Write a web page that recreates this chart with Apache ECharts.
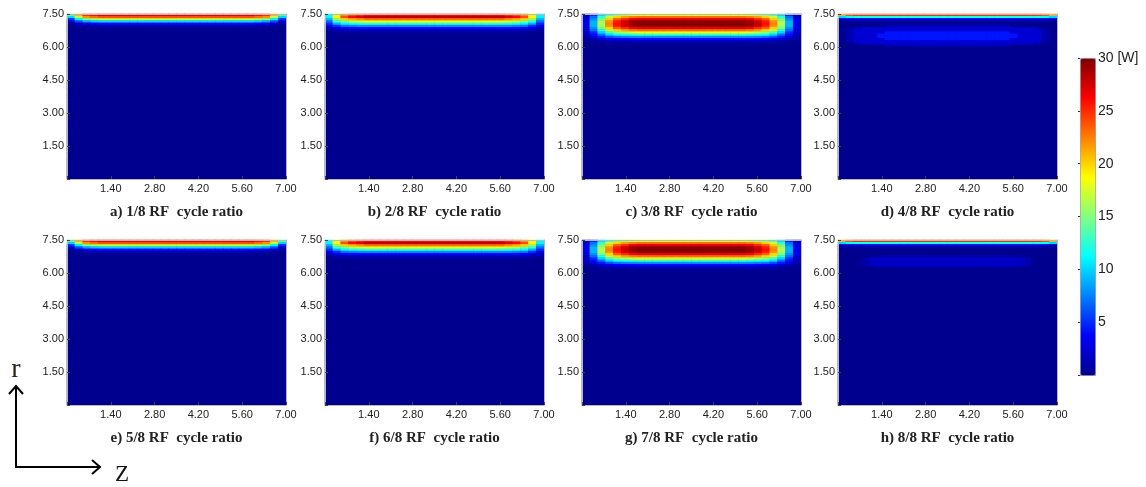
<!DOCTYPE html>
<html>
<head>
<meta charset="UTF-8">
<title>RF cycle ratio</title>
<script src="https://cdn.jsdelivr.net/npm/echarts@6/dist/echarts.min.js"></script>
</head>
<body style="margin:0;background:#fff">
<div id="main" style="width:1146px;height:487px"></div>
<script>
// cells: z from 0 to 7 in 28 columns (0.25), r from 0 to 7.5 in 75 rows (0.1)
var zCells = 28;
var rCells = 75;
var zMax = 7, zStep = 1.4;
var rMax = 7.5, rStep = 1.5;
var wMax = 30;

var captions = [
    'a) 1/8 RF  cycle ratio', 'b) 2/8 RF  cycle ratio', 'c) 3/8 RF  cycle ratio', 'd) 4/8 RF  cycle ratio',
    'e) 5/8 RF  cycle ratio', 'f) 6/8 RF  cycle ratio', 'g) 7/8 RF  cycle ratio', 'h) 8/8 RF  cycle ratio'
];

// power [W] read per cell, rows listed from the top (r = 7.5) downward;
// every row below the listed ones reads as 0
var fieldA = [
    [14,21,25,26, 27,27,27,27,27, 27,27,27,27,27, 27,27,27,27,27, 27,27,27,27,27, 26,25,21,14],
    [10,17,22,23, 24,24,24,24,24, 24,24,24,24,24, 24,24,24,24,24, 24,24,24,24,24, 23,22,17,10],
    [5,11,15,16, 17,17,17,17,17, 17,17,17,17,17, 17,17,17,17,17, 17,17,17,17,17, 16,15,11,5],
    [2,6,8.5,9.5, 10,10,10,10,10, 10,10,10,10,10, 10,10,10,10,10, 10,10,10,10,10, 9.5,8.5,6,2],
    [0.5,2,3,3.5, 4,4,4,4,4, 4,4,4,4,4, 4,4,4,4,4, 4,4,4,4,4, 3.5,3,2,0.5],
    [0,0.5,0.8,1, 1.2,1.2,1.2,1.2,1.2, 1.2,1.2,1.2,1.2,1.2, 1.2,1.2,1.2,1.2,1.2, 1.2,1.2,1.2,1.2,1.2, 1,0.8,0.5,0],
    [0,0,0.1,0.2, 0.3,0.3,0.3,0.3,0.3, 0.3,0.3,0.3,0.3,0.3, 0.3,0.3,0.3,0.3,0.3, 0.3,0.3,0.3,0.3,0.3, 0.2,0.1,0,0]
];

var fieldB = [
    [11,18,22,24,25, 26,26,26,26,26, 26,26,26,26,26, 26,26,26,26,26, 26,26,26, 25,24,22,18,11],
    [11,19,24,26,27, 28,28,28,28,28, 28,28,28,28,28, 28,28,28,28,28, 28,28,28, 27,26,24,19,11],
    [9,16,20,21,22, 23,23,23,23,23, 23,23,23,23,23, 23,23,23,23,23, 23,23,23, 22,21,20,16,9],
    [7,13,15,17,17.5, 18,18,18,18,18, 18,18,18,18,18, 18,18,18,18,18, 18,18,18, 17.5,17,15,13,7],
    [5,9,11,12,12.5, 13,13,13,13,13, 13,13,13,13,13, 13,13,13,13,13, 13,13,13, 12.5,12,11,9,5],
    [3,5,7,7.5,8, 8,8,8,8,8, 8,8,8,8,8, 8,8,8,8,8, 8,8,8, 8,7.5,7,5,3],
    [1.5,3,3.5,4,4, 4,4,4,4,4, 4,4,4,4,4, 4,4,4,4,4, 4,4,4, 4,4,3.5,3,1.5],
    [0.5,1,1.3,1.5,1.5, 1.5,1.5,1.5,1.5,1.5, 1.5,1.5,1.5,1.5,1.5, 1.5,1.5,1.5,1.5,1.5, 1.5,1.5,1.5, 1.5,1.5,1.3,1,0.5],
    [0,0.3,0.4,0.5,0.5, 0.5,0.5,0.5,0.5,0.5, 0.5,0.5,0.5,0.5,0.5, 0.5,0.5,0.5,0.5,0.5, 0.5,0.5,0.5, 0.5,0.5,0.4,0.3,0]
];

var fieldC = [
    [2,5,10,13.5,15.5,16.5,17.5, 18,18,18,18,18, 18,18,18,18,18, 18,18,18,18, 17.5,16.5,15.5,13.5,10,5,2],
    [2,7,12.5,17,20,21.5,22.5, 23,23,23,23,23, 23,23,23,23,23, 23,23,23,23, 22.5,21.5,20,17,12.5,7,2],
    [3,8,15,20,23.5,25,26.5, 27,27,27,27,27, 27,27,27,27,27, 27,27,27,27, 26.5,25,23.5,20,15,8,3],
    [3,9,16,22,25.5,27.5,29, 29.5,29.5,29.5,29.5,29.5, 29.5,29.5,29.5,29.5,29.5, 29.5,29.5,29.5,29.5, 29,27.5,25.5,22,16,9,3],
    [3,9,16.5,22.5,26,28,29.5, 30,30,30,30,30, 30,30,30,30,30, 30,30,30,30, 29.5,28,26,22.5,16.5,9,3],
    [3,9,16,22,25.5,27.5,29, 29.5,29.5,29.5,29.5,29.5, 29.5,29.5,29.5,29.5,29.5, 29.5,29.5,29.5,29.5, 29,27.5,25.5,22,16,9,3],
    [3,8,15,20,23.5,25,26.5, 27,27,27,27,27, 27,27,27,27,27, 27,27,27,27, 26.5,25,23.5,20,15,8,3],
    [2,7,12.5,17,20,21.5,22.5, 23,23,23,23,23, 23,23,23,23,23, 23,23,23,23, 22.5,21.5,20,17,12.5,7,2],
    [2,5,10,13.5,15.5,16.5,17.5, 18,18,18,18,18, 18,18,18,18,18, 18,18,18,18, 17.5,16.5,15.5,13.5,10,5,2],
    [1.5,4,7,10,11.5,12,12.5, 13,13,13,13,13, 13,13,13,13,13, 13,13,13,13, 12.5,12,11.5,10,7,4,1.5],
    [1,2.5,4.5,6,7,7.5,7.8, 8,8,8,8,8, 8,8,8,8,8, 8,8,8,8, 7.8,7.5,7,6,4.5,2.5,1],
    [0.5,1,2,3,3.5,3.7,3.9, 4,4,4,4,4, 4,4,4,4,4, 4,4,4,4, 3.9,3.7,3.5,3,2,1,0.5],
    [0.2,0.5,0.8,1.1,1.3,1.4,1.5, 1.5,1.5,1.5,1.5,1.5, 1.5,1.5,1.5,1.5,1.5, 1.5,1.5,1.5,1.5, 1.5,1.4,1.3,1.1,0.8,0.5,0.2],
    [0,0.2,0.3,0.4,0.4,0.5,0.5, 0.5,0.5,0.5,0.5,0.5, 0.5,0.5,0.5,0.5,0.5, 0.5,0.5,0.5,0.5, 0.5,0.5,0.4,0.4,0.3,0.2,0]
];

var fieldD = [
    [21,24, 25,25,25,25,25, 25,25,25,25,25, 25,25,25,25,25, 25,25,25,25,25, 25,25,25,25, 24,21],
    [10,11.5, 12,12,12,12,12, 12,12,12,12,12, 12,12,12,12,12, 12,12,12,12,12, 12,12,12,12, 11.5,10],
    [2,2.5, 3,3,3,3,3, 3,3,3,3,3, 3,3,3,3,3, 3,3,3,3,3, 3,3,3,3, 2.5,2],
    [0.3,0.3, 0.4,0.4,0.4,0.4,0.4, 0.4,0.4,0.4,0.4,0.4, 0.4,0.4,0.4,0.4,0.4, 0.4,0.4,0.4,0.4,0.4, 0.4,0.4,0.4,0.4, 0.3,0.3],
    [0,0,0,0,0, 0,0,0,0,0, 0,0,0,0,0, 0,0,0,0,0, 0,0,0,0,0, 0,0,0],
    [0,0,0,0,0,0, 1.2,1.2,1.2,1.2,1.2, 1.2,1.2,1.2,1.2,1.2, 1.2,1.2,1.2,1.2,1.2, 1.2, 0,0,0,0,0,0],
    [0,0,1.2, 2.3,2.3,2.3,2.3,2.3, 2.3,2.3,2.3,2.3,2.3, 2.3,2.3,2.3,2.3,2.3, 2.3,2.3,2.3,2.3,2.3, 2.3,2.3, 1.2,0,0],
    [0,1.2, 2.3,2.3,2.3,2.3,2.3, 2.3,2.3,2.3,2.3,2.3, 2.3,2.3,2.3,2.3,2.3, 2.3,2.3,2.3,2.3,2.3, 2.3,2.3,2.3,2.3, 1.2,0],
    [0,1.2, 2.3,2.3,2.3,2.3, 4.3,4.3,4.3,4.3,4.3, 4.3,4.3,4.3,4.3,4.3, 4.3,4.3,4.3,4.3,4.3, 4.3, 2.3,2.3,2.3,2.3, 1.2,0],
    [0,1.2, 2.3,2.3,2.3, 4.3,4.3,4.3,4.3,4.3, 4.3,4.3,4.3,4.3,4.3, 4.3,4.3,4.3,4.3,4.3, 4.3,4.3,4.3, 2.3,2.3,2.3, 1.2,0],
    [0,1.2, 2.3,2.3,2.3, 4.3,4.3,4.3,4.3,4.3, 4.3,4.3,4.3,4.3,4.3, 4.3,4.3,4.3,4.3,4.3, 4.3,4.3,4.3, 2.3,2.3,2.3, 1.2,0],
    [0,1.2, 2.3,2.3,2.3,2.3, 4.3,4.3,4.3,4.3,4.3, 4.3,4.3,4.3,4.3,4.3, 4.3,4.3,4.3,4.3,4.3, 4.3, 2.3,2.3,2.3,2.3, 1.2,0],
    [0,1.2, 2.3,2.3,2.3,2.3,2.3, 2.3,2.3,2.3,2.3,2.3, 2.3,2.3,2.3,2.3,2.3, 2.3,2.3,2.3,2.3,2.3, 2.3,2.3,2.3,2.3, 1.2,0],
    [0,0,1.2, 2.3,2.3,2.3,2.3,2.3, 2.3,2.3,2.3,2.3,2.3, 2.3,2.3,2.3,2.3,2.3, 2.3,2.3,2.3,2.3,2.3, 2.3,2.3, 1.2,0,0],
    [0,0,0,0,0,0, 1.2,1.2,1.2,1.2,1.2, 1.2,1.2,1.2,1.2,1.2, 1.2,1.2,1.2,1.2,1.2, 1.2, 0,0,0,0,0,0]
];

var fieldH = [
    [21,24, 25,25,25,25,25, 25,25,25,25,25, 25,25,25,25,25, 25,25,25,25,25, 25,25,25,25, 24,21],
    [10,11.5, 12,12,12,12,12, 12,12,12,12,12, 12,12,12,12,12, 12,12,12,12,12, 12,12,12,12, 11.5,10],
    [2,2.5, 3,3,3,3,3, 3,3,3,3,3, 3,3,3,3,3, 3,3,3,3,3, 3,3,3,3, 2.5,2],
    [0.3,0.3, 0.4,0.4,0.4,0.4,0.4, 0.4,0.4,0.4,0.4,0.4, 0.4,0.4,0.4,0.4,0.4, 0.4,0.4,0.4,0.4,0.4, 0.4,0.4,0.4,0.4, 0.3,0.3],
    [0,0,0,0,0, 0,0,0,0,0, 0,0,0,0,0, 0,0,0,0,0, 0,0,0,0,0, 0,0,0],
    [0,0,0,0,0, 0,0,0,0,0, 0,0,0,0,0, 0,0,0,0,0, 0,0,0,0,0, 0,0,0],
    [0,0,0,0,0, 0,0,0,0,0, 0,0,0,0,0, 0,0,0,0,0, 0,0,0,0,0, 0,0,0],
    [0,0,0,0,0, 0.8,0.8,0.8,0.8,0.8, 0.8,0.8,0.8,0.8,0.8, 0.8,0.8,0.8,0.8,0.8, 0.8,0.8,0.8, 0,0,0,0,0],
    [0,0,0, 0.8, 1.8,1.8,1.8,1.8,1.8, 1.8,1.8,1.8,1.8,1.8, 1.8,1.8,1.8,1.8,1.8, 1.8,1.8,1.8,1.8,1.8, 0.8, 0,0,0],
    [0,0,0, 0.8, 1.8,1.8,1.8,1.8,1.8, 1.8,1.8,1.8,1.8,1.8, 1.8,1.8,1.8,1.8,1.8, 1.8,1.8,1.8,1.8,1.8, 0.8, 0,0,0],
    [0,0,0, 0.8, 1.8,1.8,1.8,1.8,1.8, 1.8,1.8,1.8,1.8,1.8, 1.8,1.8,1.8,1.8,1.8, 1.8,1.8,1.8,1.8,1.8, 0.8, 0,0,0],
    [0,0,0, 0.8, 1.8,1.8,1.8,1.8,1.8, 1.8,1.8,1.8,1.8,1.8, 1.8,1.8,1.8,1.8,1.8, 1.8,1.8,1.8,1.8,1.8, 0.8, 0,0,0],
    [0,0,0,0,0, 0.8,0.8,0.8,0.8,0.8, 0.8,0.8,0.8,0.8,0.8, 0.8,0.8,0.8,0.8,0.8, 0.8,0.8,0.8, 0,0,0,0,0]
];

// e), f), g) read the same as a), b), c)
var fieldE = fieldA;
var fieldF = fieldB;
var fieldG = fieldC;

var fields = [fieldA, fieldB, fieldC, fieldD, fieldE, fieldF, fieldG, fieldH];

var barTicks = [5, 10, 15, 20, 25, 30];
var jet = ['#00008f', '#0000ff', '#0080ff', '#00ffff', '#80ff80', '#ffff00', '#ff8000', '#ff0000', '#800000'];

var panelLeft = [67, 325, 582, 838];
var panelTop = [14, 240];
var panelW = 219, panelH = 165;

var labelFont = 'Liberation Sans, Arial, sans-serif';
var capFont = 'Liberation Serif, Times New Roman, serif';

var zCats = [], rCats = [];
for (var j = 0; j < zCells; j++) zCats.push(String(j));
for (var k = 0; k < rCells; k++) rCats.push(String(k));

function cells(field) {
    var out = [];
    for (var k = 0; k < rCells; k++) {
        var row = field[k];
        for (var j = 0; j < zCells; j++) {
            out.push([j, rCells - 1 - k, row ? row[j] : 0]);
        }
    }
    return out;
}

var grids = [], xAxes = [], yAxes = [], series = [];

for (var i = 0; i < 8; i++) {
    grids.push({
        left: panelLeft[i % 4], top: panelTop[Math.floor(i / 4)],
        width: panelW, height: panelH, outerBoundsMode: 'none',
        show: true, backgroundColor: jet[0], borderWidth: 0
    });
    xAxes.push({
        type: 'value', gridIndex: i, min: 0, max: zMax, interval: zStep, position: 'bottom', z: 5,
        axisLine: { onZero: false, lineStyle: { color: '#b8b8b8', width: 1 } },
        axisTick: { inside: true, length: 3, lineStyle: { color: '#444' } },
        splitLine: { show: false },
        axisLabel: {
            fontFamily: labelFont, fontSize: 11, color: '#222', margin: 4, showMaxLabel: true,
            formatter: function (v) { return v === 0 ? '' : v.toFixed(2); }
        },
        name: captions[i], nameLocation: 'middle', nameGap: 26,
        nameTextStyle: { fontFamily: capFont, fontWeight: 'bold', fontSize: 15, color: '#222' }
    });
    xAxes.push({
        type: 'category', gridIndex: i, data: zCats, position: 'top', z: 5,
        axisLine: { onZero: false, lineStyle: { color: '#b8b8b8', width: 1 } },
        axisTick: { show: false }, axisLabel: { show: false }, splitLine: { show: false }
    });
    yAxes.push({
        type: 'value', gridIndex: i, min: 0, max: rMax, interval: rStep, position: 'left', z: 5,
        axisLine: { show: true, onZero: false, lineStyle: { color: '#b8b8b8', width: 1 } },
        axisTick: { show: true, inside: true, length: 3, lineStyle: { color: '#444' } },
        splitLine: { show: false },
        axisLabel: {
            fontFamily: labelFont, fontSize: 11, color: '#222', margin: 3, showMaxLabel: true,
            formatter: function (v) { return v === 0 ? '' : v.toFixed(2); }
        }
    });
    yAxes.push({
        type: 'category', gridIndex: i, data: rCats, position: 'right', z: 5,
        axisLine: { show: true, onZero: false, lineStyle: { color: '#b8b8b8', width: 1 } },
        axisTick: { show: false }, axisLabel: { show: false }, splitLine: { show: false }
    });
    series.push({
        type: 'heatmap', xAxisIndex: 2 * i + 1, yAxisIndex: 2 * i + 1,
        data: cells(fields[i]), progressive: 0, emphasis: { disabled: true },
        itemStyle: { borderWidth: 0 }
    });
}

// colour bar scale
grids.push({ left: 1080, top: 58, width: 15, height: 317, outerBoundsMode: 'none' });
xAxes.push({ type: 'value', gridIndex: 8, show: false, min: 0, max: 1 });
yAxes.push({
    type: 'value', gridIndex: 8, min: 0, max: wMax, interval: 5, position: 'right', z: 10,
    axisLine: { show: false },
    axisTick: { show: true, inside: true, length: 2, lineStyle: { color: '#333' } },
    splitLine: { show: false },
    axisLabel: {
        fontFamily: labelFont, fontSize: 14, color: '#222', margin: 3, showMaxLabel: true,
        formatter: function (v) {
            if (barTicks.indexOf(v) < 0) return '';
            return v === wMax ? v + ' [W]' : String(v);
        }
    }
});

var chart = echarts.init(document.getElementById('main'), null, { renderer: 'canvas' });

chart.setOption({
    animation: false,
    backgroundColor: '#fff',
    grid: grids,
    xAxis: xAxes,
    yAxis: yAxes,
    visualMap: {
        type: 'continuous', min: 0, max: wMax, seriesIndex: [0, 1, 2, 3, 4, 5, 6, 7],
        inRange: { color: jet },
        left: 1080, top: 58, itemWidth: 15, itemHeight: 317, padding: 0,
        calculable: false, hoverLink: false, text: null,
        borderColor: '#9a9a9a', borderWidth: 1
    },
    graphic: [
        { type: 'polyline', shape: { points: [[16, 386], [16, 467], [100, 467]] },
          style: { stroke: '#000', lineWidth: 2, fill: null } },
        { type: 'polyline', shape: { points: [[9, 394], [16, 386], [23, 394]] },
          style: { stroke: '#000', lineWidth: 2, fill: null } },
        { type: 'polyline', shape: { points: [[92, 460], [100, 467], [92, 474]] },
          style: { stroke: '#000', lineWidth: 2, fill: null } },
        { type: 'text', x: 16, y: 370,
          style: { text: 'r', fontFamily: capFont, fontSize: 28, fill: '#2a2416',
                   textAlign: 'center', textVerticalAlign: 'middle' } },
        { type: 'text', x: 122, y: 475,
          style: { text: 'Z', fontFamily: capFont, fontSize: 23, fill: '#111',
                   textAlign: 'center', textVerticalAlign: 'middle' } }
    ],
    series: series
});
</script>
</body>
</html>
